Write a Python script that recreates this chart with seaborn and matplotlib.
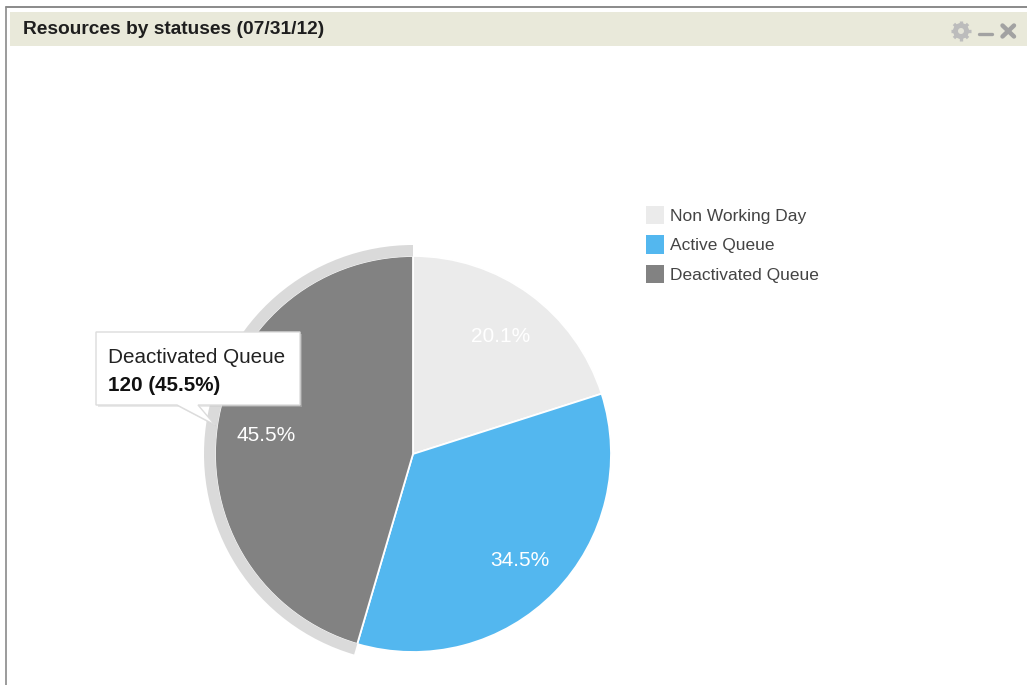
import numpy as np
import matplotlib
matplotlib.use("Agg")
import matplotlib.pyplot as plt
from matplotlib.patches import Wedge, Rectangle, Polygon, Circle
from matplotlib.lines import Line2D
import seaborn as sns

# Resource counts per status
statuses = ["Non Working Day", "Active Queue", "Deactivated Queue"]
counts = [53, 91, 120]
panel_title = "Resources by statuses (07/31/12)"
highlighted = 2

sns.set_theme(style="white")
plt.rcParams["font.family"] = ["Liberation Sans", "DejaVu Sans"]
palette = sns.color_palette(["#EBEBEB", "#53B7EF", "#828282"])

W, H = 1027, 685
fig = plt.figure(figsize=(W / 100, H / 100), dpi=100, facecolor="white")
ax = fig.add_axes([0, 0, 1, 1])
ax.set_xlim(0, W)
ax.set_ylim(0, H)
ax.axis("off")


def fy(y):
    """Convert a top-down pixel row to axes data."""
    return H - y


# Panel frame and header band
ax.add_patch(Rectangle((10, fy(45.5)), W - 10, 33.5, fc="#E9E9DA", ec="none", zorder=1))
ax.add_line(Line2D([6, W], [fy(7), fy(7)], color="#777777", lw=1.2, zorder=2))
ax.add_line(Line2D([6, 6], [fy(7), 0], color="#8A8A8A", lw=1.2, zorder=2))
ax.text(23, fy(29.5), panel_title, fontsize=13.8, fontweight="bold", color="#1E1E1E",
        va="center", ha="left", zorder=3)

# Header icons: gear, minimise, close
gear_c = (961, fy(31))
for a in np.arange(0, 360, 45):
    ax.add_line(Line2D([gear_c[0], gear_c[0] + 10 * np.cos(np.radians(a))],
                       [gear_c[1], gear_c[1] + 10 * np.sin(np.radians(a))],
                       color="#BDBDBD", lw=2.4, solid_capstyle="butt", zorder=3))
ax.add_patch(Circle(gear_c, 8, fc="#BCBCBC", ec="none", zorder=3))
ax.add_patch(Circle(gear_c, 3, fc="#E4E4D8", ec="none", zorder=4))
ax.add_line(Line2D([979, 992], [fy(33.5), fy(33.5)], color="#A2A2A2", lw=2.4,
                   solid_capstyle="round", zorder=3))
ax.add_line(Line2D([1002.5, 1014], [fy(25.5), fy(36.5)], color="#A2A2A2", lw=3.2, zorder=3))
ax.add_line(Line2D([1002.5, 1014], [fy(36.5), fy(25.5)], color="#A2A2A2", lw=3.2, zorder=3))

# Status pie
center = (413, fy(454))
radius = 198
wedges, _, pct_texts = ax.pie(
    counts,
    colors=palette,
    startangle=90,
    counterclock=False,
    center=center,
    radius=radius,
    frame=True,
    autopct="%.1f%%",
    pctdistance=0.75,
    wedgeprops={"edgecolor": "white", "linewidth": 1.3, "zorder": 5},
    textprops={"zorder": 7},
)
ax.set_xlim(0, W)
ax.set_ylim(0, H)
ax.axis("off")
for t in pct_texts:
    t.set_color("white")
    t.set_fontsize(15)
    # Nudge each label down to sit on the slice's visual centre
    x, y = t.get_position()
    t.set_position((x + 0.5, y - 2.5))

# Hover ring around the highlighted slice, drawn over the slice's outer outline
hw = wedges[highlighted]
ax.add_patch(Wedge(center, radius + 11, hw.theta1, hw.theta2, width=11.5,
                   fc="#DADADA", ec="none", zorder=6))

# Legend
handles = [Rectangle((0, 0), 1, 1, fc=c, ec="none") for c in palette]
ax.legend(handles, statuses, loc="upper left", bbox_to_anchor=(646 / W, 1 - 206 / H),
          frameon=False, fontsize=12.5, handlelength=1.03, handleheight=1.22,
          handletextpad=0.36, labelspacing=0.66, borderpad=0, borderaxespad=0,
          labelcolor="#444444")

# Tooltip for the highlighted slice
share = counts[highlighted] / sum(counts) * 100
outline = [(96, 332), (300, 332), (300, 405), (198, 405), (215, 425), (177, 405), (96, 405)]
shadow = [(x + 2, fy(y + 2)) for x, y in outline]
ax.add_patch(Polygon(shadow, closed=True, fc="#C8C8C8", ec="none", alpha=0.4, zorder=8))
ax.add_patch(Polygon([(x, fy(y)) for x, y in outline], closed=True, fc="white",
                     ec="#DCDCDC", lw=1, zorder=9))
ax.text(108, fy(357), statuses[highlighted], fontsize=14.9, color="#222222",
        va="center", ha="left", zorder=10)
ax.text(108, fy(385), f"{counts[highlighted]} ({share:.1f}%)", fontsize=14.9,
        fontweight="bold", color="#111111", va="center", ha="left", zorder=10)

fig.savefig("out.png", dpi=100, facecolor="white")
